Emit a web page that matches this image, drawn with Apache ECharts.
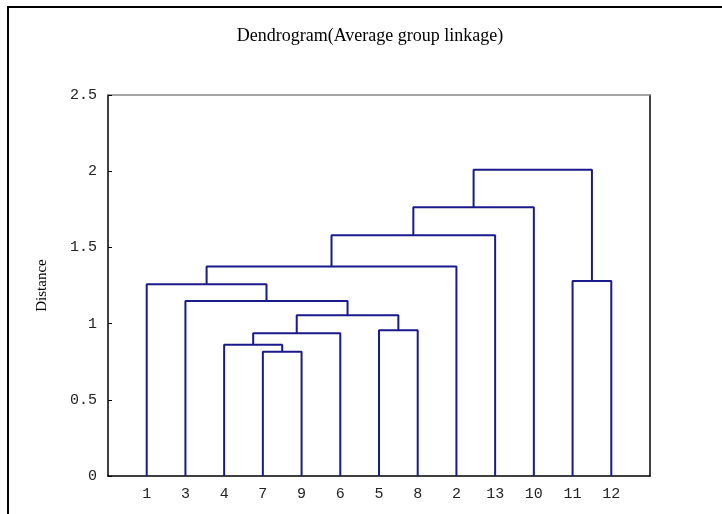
<!DOCTYPE html>
<html><head><meta charset="utf-8">
<script src="https://cdn.jsdelivr.net/npm/echarts@6/dist/echarts.min.js"></script>
<style>html,body{margin:0;padding:0;background:#fff;}#c{width:722px;height:514px;}</style>
</head><body><div id="c"></div>
<script>
const leaves = ['1','3','4','7','9','6','5','8','2','13','10','11','12'];
// merges: child A, child B, height; 'mN' refers to merge N
const mergeA = ['7','4','m1','5','m2','3','1','m6','m7','m8','11','m9'];
const mergeB = ['9','m0','6','8','m3','m4','m5','2','13','10','12','m10'];
const mergeH = [0.816,0.862,0.936,0.956,1.054,1.148,1.258,1.374,1.579,1.763,1.280,2.010];
const yTicks = ['0','0.5','1','1.5','2','2.5'];

const pos = {}, hgt = {};
leaves.forEach((l,i)=>{pos[l]=i+1;hgt[l]=0;});
const series = [];
mergeH.forEach((h,i)=>{
  const a=mergeA[i], b=mergeB[i];
  const xa=pos[a], xb=pos[b];
  series.push({type:'line',symbol:'none',animation:false,silent:true,
    lineStyle:{color:'#1a1a8c',width:2},
    data:[[xa,hgt[a]],[xa,h],[xb,h],[xb,hgt[b]]]});
  pos['m'+i]=(xa+xb)/2; hgt['m'+i]=h;
});

const chart = echarts.init(document.getElementById('c'));
const mono = 'Liberation Mono';
chart.setOption({
  animation:false,
  title:{text:'Dendrogram(Average group linkage)',left:365,top:22,textAlign:'center',
    textStyle:{fontFamily:'Liberation Serif',fontWeight:'normal',fontSize:18,color:'#000'}},
  graphic:[{type:'rect',shape:{x:8,y:7,width:730,height:520},style:{fill:'none',stroke:'#000',lineWidth:2}}],
  grid:{left:108,right:72,top:95,bottom:38},
  xAxis:[{type:'value',min:0,max:14,interval:1,
    axisLine:{onZero:false,lineStyle:{color:'#000',width:1.5}},axisTick:{show:false},splitLine:{show:false},
    axisLabel:{margin:11,fontFamily:mono,fontSize:15,color:'#222',
      formatter:v=>leaves[v-1]||''}},
    {type:'value',position:'top',min:0,max:14,axisLine:{show:true,onZero:false,lineStyle:{color:'#888',width:1.5}},
     axisTick:{show:false},axisLabel:{show:false},splitLine:{show:false}}],
  yAxis:[{type:'value',min:0,max:2.5,interval:0.5,
    name:'Distance',nameLocation:'middle',nameGap:58,nameRotate:90,
    nameTextStyle:{fontFamily:'Liberation Serif',fontSize:15,color:'#000'},
    axisLine:{show:true,onZero:false,lineStyle:{color:'#000',width:1.5}},
    axisTick:{show:true,inside:true,length:4,lineStyle:{color:'#000'}},
    splitLine:{show:false},
    axisLabel:{margin:11,fontFamily:mono,fontSize:15,color:'#222',formatter:v=>yTicks[Math.round(v*2)]}},
    {type:'value',position:'right',min:0,max:2.5,axisLine:{show:true,onZero:false,lineStyle:{color:'#000',width:1.5}},
     axisTick:{show:false},axisLabel:{show:false},splitLine:{show:false}}],
  series:series
});
</script></body></html>
